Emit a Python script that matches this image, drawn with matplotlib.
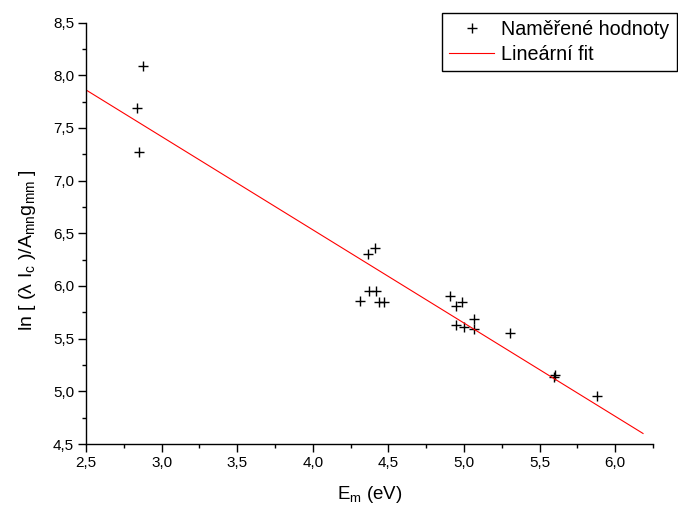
import matplotlib
matplotlib.use("Agg")
import matplotlib.pyplot as plt
from matplotlib.ticker import MultipleLocator, FixedLocator, FixedFormatter

plt.rcParams['font.family'] = ['Liberation Sans', 'DejaVu Sans']
plt.rcParams['mathtext.fontset'] = 'custom'
plt.rcParams['mathtext.rm'] = 'Liberation Sans'
plt.rcParams['mathtext.it'] = 'Liberation Sans'
plt.rcParams['mathtext.default'] = 'regular'

# measured data
energy = [2.875, 2.835, 2.852,
          4.367, 4.411, 4.374, 4.418, 4.312, 4.440, 4.473,
          4.907, 4.985, 4.947, 4.947, 5.000, 5.066, 5.066,
          5.304, 5.602, 5.592, 5.878]
ln_val = [8.085, 7.690, 7.267,
          6.303, 6.357, 5.954, 5.948, 5.859, 5.849, 5.849,
          5.906, 5.849, 5.808, 5.634, 5.606, 5.682, 5.589,
          5.549, 5.152, 5.137, 4.952]

# linear fit endpoints
fit_x = [2.5, 6.184]
fit_y = [7.860, 4.600]

xticks = [2.5, 3.0, 3.5, 4.0, 4.5, 5.0, 5.5, 6.0]
xticklabels = ['2,5', '3,0', '3,5', '4,0', '4,5', '5,0', '5,5', '6,0']
yticks = [4.5, 5.0, 5.5, 6.0, 6.5, 7.0, 7.5, 8.0, 8.5]
yticklabels = ['4,5', '5,0', '5,5', '6,0', '6,5', '7,0', '7,5', '8,0', '8,5']

fig = plt.figure(figsize=(6.78, 5.13), dpi=100)
ax = fig.add_axes([86/678, 1-444/513, (653-86)/678, (444-22.5)/513])

ax.plot(energy, ln_val, linestyle='none', marker='+', color='black',
        markersize=7, markeredgewidth=1.0, label='Naměřené hodnoty')
ax.plot(fit_x, fit_y, color='#ff0000', linewidth=0.8, label='Lineární fit')

ax.set_xlim(2.5, 6.25)
ax.set_ylim(4.5, 8.5)
ax.xaxis.set_major_locator(FixedLocator(xticks))
ax.xaxis.set_major_formatter(FixedFormatter(xticklabels))
ax.yaxis.set_major_locator(FixedLocator(yticks))
ax.yaxis.set_major_formatter(FixedFormatter(yticklabels))
ax.xaxis.set_minor_locator(MultipleLocator(0.25))
ax.yaxis.set_minor_locator(MultipleLocator(0.25))
ax.tick_params(which='major', direction='out', length=5.5, width=1, labelsize=11, pad=3)
ax.tick_params(which='minor', direction='out', length=3, width=1)

for s in ['top', 'right']:
    ax.spines[s].set_visible(False)
for s in ['left', 'bottom']:
    ax.spines[s].set_linewidth(1.0)

ax.set_xlabel('E$_{m}$ (eV)', fontsize=13.5, labelpad=10)
ax.set_ylabel('ln [ (λ I$_{c}$ )/A$_{mn}$g$_{mm}$ ]', fontsize=14)
ax.yaxis.set_label_coords(-0.085, 0.46)

leg = fig.legend(loc='upper right', bbox_to_anchor=(677/678, 1-12.5/513),
                 fontsize=14.2, frameon=True, fancybox=False, framealpha=1,
                 edgecolor='black', borderpad=0.38, handlelength=2.3,
                 handletextpad=0.35, labelspacing=0.28, borderaxespad=0)
leg.get_frame().set_linewidth(1.0)

fig.savefig('out.png', dpi=100)
